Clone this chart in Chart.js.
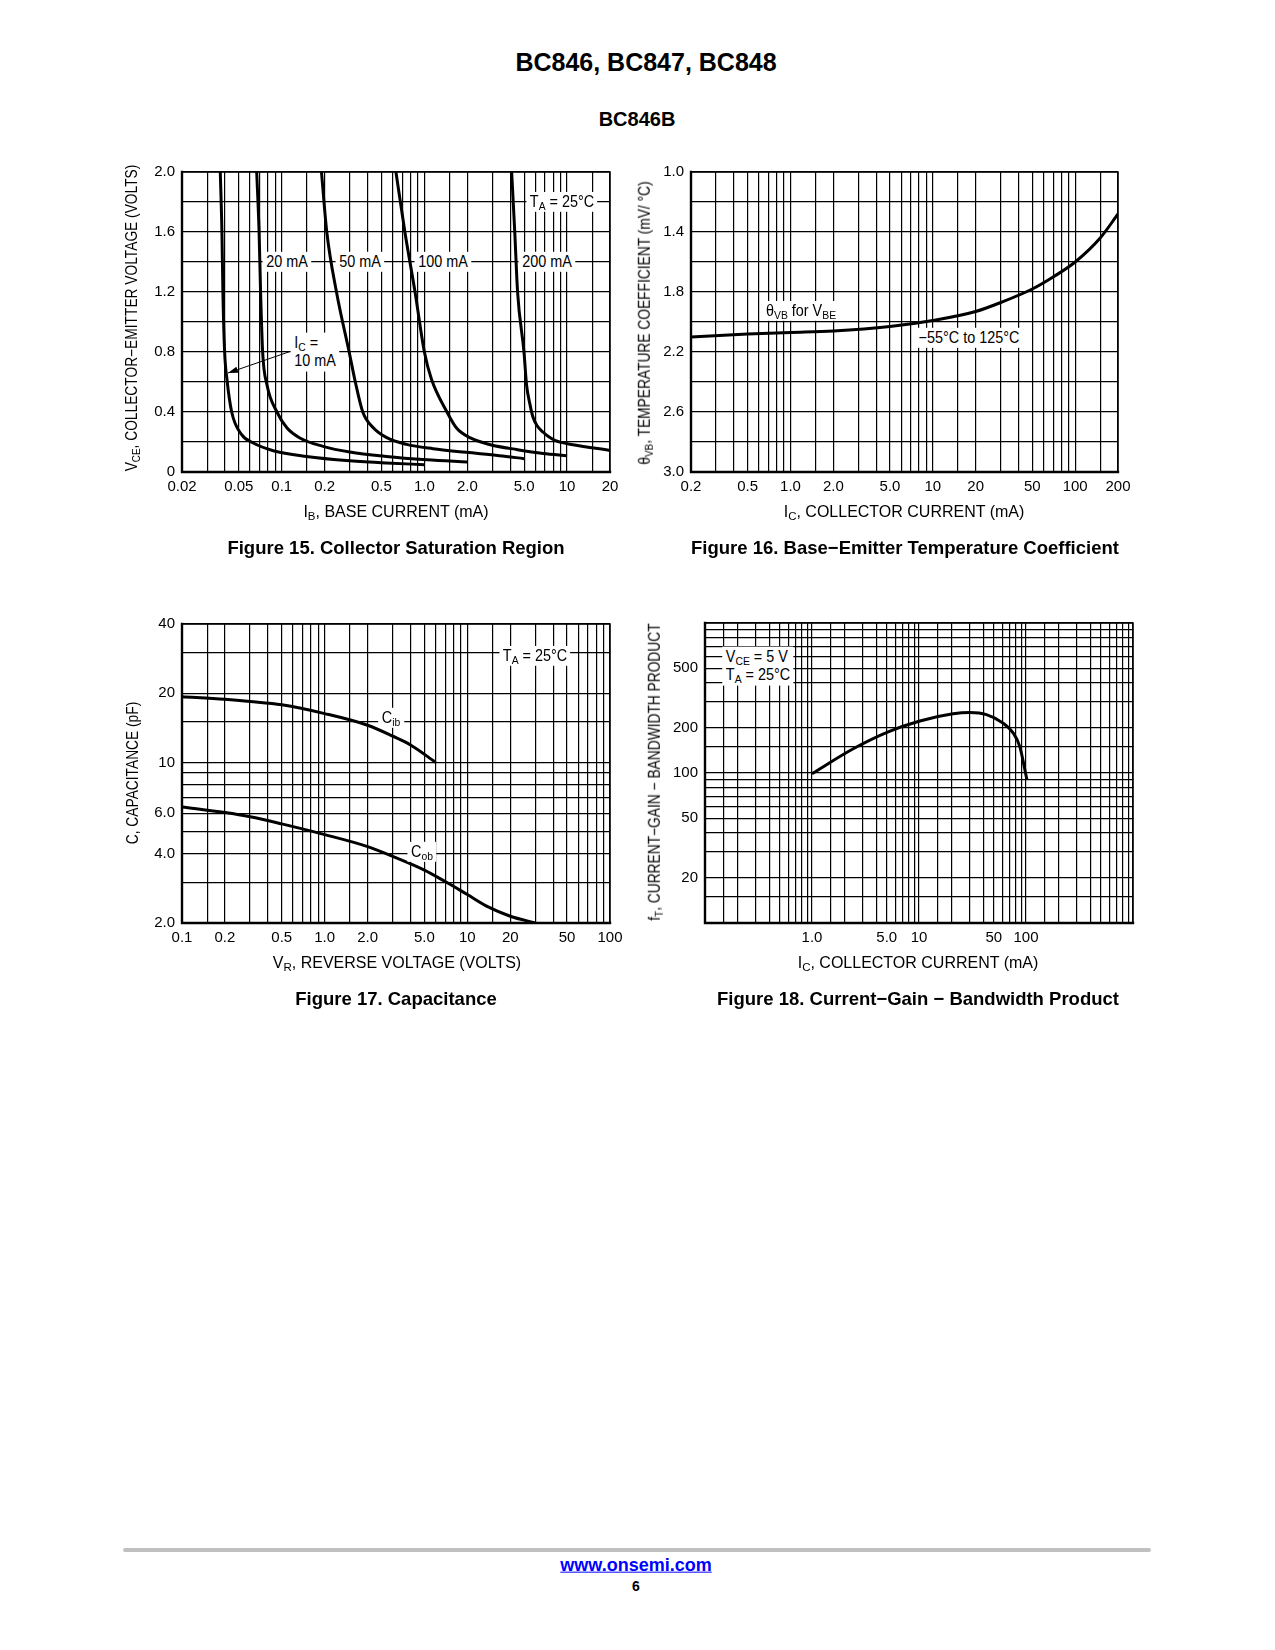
<!DOCTYPE html>
<html lang="en">
<head>
<meta charset="UTF-8">
<title>BC846, BC847, BC848 - BC846B curves</title>
<script src="https://cdn.jsdelivr.net/npm/chart.js"></script>
<style>
  html, body { margin: 0; padding: 0; background: #fff; }
  body { width: 1275px; height: 1650px; position: relative; overflow: hidden; color: #000;
         font-family: 'Liberation Sans', Arial, sans-serif; }
  canvas { position: absolute; }
  .t { position: absolute; transform: translate(-50%, -50%); white-space: nowrap; line-height: 1.15; }
  .head { font-weight: bold; }
  .cap { font-weight: bold; font-size: 18.5px; }
  .xt { font-size: 16px; }
  .yt { font-size: 16px; transform: translate(-50%, -50%) rotate(-90deg) scaleX(0.86); }
  .note { font-size: 16px; background: #fff; padding: 1px 4px; transform: translate(-50%, -50%) scaleX(0.9); }
  .left { text-align: left; }
  sub { font-size: 72%; vertical-align: -0.3em; line-height: 0; }
  .rule { position: absolute; left: 123px; top: 1548px; width: 1028px; height: 4px; background: #c0c0c0; border-radius: 2px; }
  .link { color: #0000ff; text-decoration: underline; font-weight: bold; font-size: 18px; }
</style>
</head>
<body>
<canvas id="fig15" width="508" height="355" style="left:127px; top:152px"></canvas>
<canvas id="fig16" width="507" height="355" style="left:636px; top:152px"></canvas>
<canvas id="fig17" width="508" height="354" style="left:127px; top:604px"></canvas>
<canvas id="fig18" width="508" height="355" style="left:650px; top:603px"></canvas>

<div class="t head" style="left:646px; top:62px; font-size:25px">BC846, BC847, BC848</div>
<div class="t head" style="left:637px; top:119px; font-size:20px">BC846B</div>

<!-- figure 15 -->
<div class="t yt" style="left:132px; top:318px">V<sub>CE</sub>, COLLECTOR−EMITTER VOLTAGE (VOLTS)</div>
<div class="t xt" style="left:396px; top:512px">I<sub>B</sub>, BASE CURRENT (mA)</div>
<div class="t cap" style="left:396px; top:548px">Figure 15. Collector Saturation Region</div>
<div class="t note" style="left:287px; top:262px">20 mA</div>
<div class="t note" style="left:360px; top:262px">50 mA</div>
<div class="t note" style="left:443px; top:262px">100 mA</div>
<div class="t note" style="left:547px; top:262px">200 mA</div>
<div class="t note" style="left:562px; top:202px">T<sub>A</sub> = 25°C</div>
<div class="t note" style="left:315px; top:352px">I<sub>C</sub> =<br>10 mA</div>

<!-- figure 16 -->
<div class="t yt" style="left:645px; top:323px">θ<sub>VB</sub>, TEMPERATURE COEFFICIENT (mV/ °C)</div>
<div class="t xt" style="left:904px; top:512px">I<sub>C</sub>, COLLECTOR CURRENT (mA)</div>
<div class="t cap" style="left:905px; top:548px">Figure 16. Base−Emitter Temperature Coefficient</div>
<div class="t note" style="left:801px; top:311px">θ<sub>VB</sub> for V<sub>BE</sub></div>
<div class="t note" style="left:969px; top:338px">−55°C to 125°C</div>

<!-- figure 17 -->
<div class="t yt" style="left:133px; top:773px">C, CAPACITANCE (pF)</div>
<div class="t xt" style="left:397px; top:963px">V<sub>R</sub>, REVERSE VOLTAGE (VOLTS)</div>
<div class="t cap" style="left:396px; top:999px">Figure 17. Capacitance</div>
<div class="t note" style="left:535px; top:656px">T<sub>A</sub> = 25°C</div>
<div class="t note" style="left:391px; top:718px">C<sub>ib</sub></div>
<div class="t note" style="left:422px; top:852px">C<sub>ob</sub></div>

<!-- figure 18 -->
<div class="t yt" style="left:655px; top:772px">f<sub>T</sub>, CURRENT−GAIN − BANDWIDTH PRODUCT</div>
<div class="t xt" style="left:918px; top:963px">I<sub>C</sub>, COLLECTOR CURRENT (mA)</div>
<div class="t cap" style="left:918px; top:999px">Figure 18. Current−Gain − Bandwidth Product</div>
<div class="t note left" style="left:758px; top:666px">V<sub>CE</sub> = 5 V<br>T<sub>A</sub> = 25°C</div>

<div class="rule"></div>
<div class="t link" style="left:636px; top:1565px">www.onsemi.com</div>
<div class="t head" style="left:636px; top:1586px; font-size:14px">6</div>

<script>
// ---- Figure 15: collector saturation region (IB in mA, VCE in volts)
const ib10 = [0.0371, 0.0381, 0.0387, 0.0398, 0.0413, 0.0446, 0.0524, 0.0632, 0.0873, 0.149, 0.3, 0.54, 1.0];
const vce10 = [2.0, 1.6, 1.2, 0.8, 0.62, 0.4, 0.249, 0.193, 0.142, 0.104, 0.075, 0.06, 0.049];
const ib20 = [0.0668, 0.0694, 0.0711, 0.0735, 0.0788, 0.0926, 0.109, 0.134, 0.195, 0.3, 0.54, 1.04, 2.0];
const vce20 = [2.0, 1.6, 1.2, 0.8, 0.582, 0.4, 0.293, 0.227, 0.171, 0.133, 0.104, 0.082, 0.067];
const ib50 = [0.19, 0.207, 0.242, 0.297, 0.328, 0.37, 0.44, 0.54, 0.75, 1.15, 1.97, 3.35, 5.0];
const vce50 = [2.0, 1.6, 1.2, 0.8, 0.6, 0.4, 0.293, 0.231, 0.184, 0.155, 0.131, 0.109, 0.089];
const ib100 = [0.632, 0.73, 0.86, 1.0, 1.12, 1.44, 1.68, 2.1, 2.9, 4.5, 6.8, 10];
const vce100 = [2.0, 1.6, 1.2, 0.8, 0.62, 0.4, 0.293, 0.227, 0.182, 0.149, 0.124, 0.109];
const ib200 = [4.09, 4.3, 4.5, 4.99, 5.2, 5.5, 5.75, 6.15, 6.8, 7.4, 8.3, 11, 20];
const vce200 = [2.0, 1.6, 1.2, 0.8, 0.582, 0.449, 0.37, 0.31, 0.265, 0.237, 0.209, 0.182, 0.144];
const arrowIc10 = { from: [0.124, 0.815], to: [0.042, 0.66] };
const fig15XLabels = ['0.02', '0.05', '0.1', '0.2', '0.5', '1.0', '2.0', '5.0', '10', '20'];
const fig15YLabels = ['0', '0.4', '0.8', '1.2', '1.6', '2.0'];

// ---- Figure 16: base-emitter temperature coefficient
const icTemp = [0.2, 0.5, 1.0, 2.0, 5.0, 10, 20, 30, 50, 70, 100, 150, 200];
const thetaVB = [2.1, 2.08, 2.07, 2.06, 2.03, 1.99, 1.93, 1.87, 1.78, 1.7, 1.6, 1.44, 1.28];
const fig16XLabels = ['0.2', '0.5', '1.0', '2.0', '5.0', '10', '20', '50', '100', '200'];
const fig16YLabels = ['1.0', '1.4', '1.8', '2.2', '2.6', '3.0'];

// ---- Figure 17: capacitance (VR in volts, C in pF)
const vrCib = [0.1, 0.2, 0.3, 0.5, 1.0, 2.0, 3.0, 4.0, 6.0];
const cib = [19.3, 18.8, 18.4, 17.8, 16.3, 14.5, 13.0, 11.9, 10.0];
const vrCob = [0.1, 0.2, 0.3, 0.5, 1.0, 2.0, 3.0, 5.0, 7.0, 10, 14, 20, 30];
const cob = [6.4, 6.05, 5.8, 5.4, 4.85, 4.3, 3.9, 3.4, 3.03, 2.66, 2.35, 2.14, 2.0];
const fig17XLabels = ['0.1', '0.2', '0.5', '1.0', '2.0', '5.0', '10', '20', '50', '100'];
const fig17YLabels = ['2.0', '4.0', '6.0', '10', '20', '40'];

// ---- Figure 18: current-gain bandwidth product (IC in mA, fT in MHz)
const icFt = [1.0, 2.43, 5.15, 10.2, 20.8, 29.8, 42.7, 61, 75.8, 87.5, 102];
const fT = [99, 145, 188, 222, 248, 253, 245, 215, 185, 150, 90];
const fig18XLabels = ['1.0', '5.0', '10', '50', '100'];
const fig18YLabels = ['20', '50', '100', '200', '500'];

const SANS = "'Liberation Sans', Arial, sans-serif";
Chart.defaults.animation = false;
Chart.defaults.responsive = false;
Chart.defaults.plugins.legend.display = false;
Chart.defaults.plugins.tooltip.enabled = false;

// grid lines at 1, 1.5, 2, 3 ... 9 of every decade, like the printed log paper
function logGrid(min, max) {
  const out = [];
  for (let e = Math.floor(Math.log10(min)); e <= Math.ceil(Math.log10(max)); e++) {
    [1, 1.5, 2, 3, 4, 5, 6, 7, 8, 9].forEach(m => {
      const v = m * Math.pow(10, e);
      if (v >= min * 0.999 && v <= max * 1.001) out.push(v);
    });
  }
  return out;
}
function linGrid(min, max, step) {
  const out = [];
  for (let i = 0; min + i * step <= max + 1e-9; i++) out.push(min + i * step);
  return out;
}
function labelFor(labels, v) {
  const l = labels.find(s => Math.abs(parseFloat(s) - v) <= Math.abs(v) * 1e-6 + 1e-9);
  return l === undefined ? '' : l;
}
function axis(type, min, max, grid, labels, isX, extra) {
  return Object.assign({
    type, min, max,
    afterBuildTicks: s => { s.ticks = grid.map(v => ({ value: v })); },
    afterFit: s => { if (isX) s.height = 35; else s.width = 55; },
    ticks: { autoSkip: false, maxRotation: 0, minRotation: 0, color: '#000', padding: isX ? 6 : 7,
             font: { family: SANS, size: 15 }, callback: v => labelFor(labels, v) },
    grid: { color: '#000', lineWidth: 1.2, drawTicks: false },
    border: { display: false }
  }, extra || {});
}
function curve(xs, ys) {
  return {
    data: xs.map((x, i) => ({ x, y: ys[i] })),
    borderColor: '#000', borderWidth: 3, pointRadius: 0,
    cubicInterpolationMode: 'monotone', fill: false
  };
}
const frame = {
  id: 'frame',
  afterDatasetsDraw(chart) {
    const { ctx, chartArea: a } = chart;
    ctx.save();
    ctx.strokeStyle = '#000';
    ctx.lineCap = 'square';
    ctx.lineWidth = 1.5;
    ctx.beginPath(); ctx.moveTo(a.left, a.top); ctx.lineTo(a.right, a.top); ctx.lineTo(a.right, a.bottom); ctx.stroke();
    ctx.lineWidth = 2.4;
    ctx.beginPath(); ctx.moveTo(a.left, a.top); ctx.lineTo(a.left, a.bottom); ctx.lineTo(a.right, a.bottom); ctx.stroke();
    ctx.restore();
  }
};
const arrow = {
  id: 'arrow',
  afterDatasetsDraw(chart) {
    const { ctx, scales: { x, y } } = chart;
    const x0 = x.getPixelForValue(arrowIc10.from[0]), y0 = y.getPixelForValue(arrowIc10.from[1]);
    const x1 = x.getPixelForValue(arrowIc10.to[0]), y1 = y.getPixelForValue(arrowIc10.to[1]);
    const ang = Math.atan2(y1 - y0, x1 - x0);
    ctx.save();
    ctx.strokeStyle = '#000'; ctx.fillStyle = '#000'; ctx.lineWidth = 1;
    ctx.beginPath(); ctx.moveTo(x0, y0); ctx.lineTo(x1, y1); ctx.stroke();
    ctx.beginPath();
    ctx.moveTo(x1, y1);
    ctx.lineTo(x1 - 10 * Math.cos(ang) + 3.2 * Math.sin(ang), y1 - 10 * Math.sin(ang) - 3.2 * Math.cos(ang));
    ctx.lineTo(x1 - 10 * Math.cos(ang) - 3.2 * Math.sin(ang), y1 - 10 * Math.sin(ang) + 3.2 * Math.cos(ang));
    ctx.closePath(); ctx.fill();
    ctx.restore();
  }
};
// top padding must exceed the y labels' own overflow (half label + tick padding)
const pad = { top: 20, right: 25, left: 0, bottom: 0 };

new Chart(document.getElementById('fig15'), {
  type: 'line',
  data: { datasets: [curve(ib10, vce10), curve(ib20, vce20), curve(ib50, vce50), curve(ib100, vce100), curve(ib200, vce200)] },
  options: {
    layout: { padding: pad },
    scales: {
      x: axis('logarithmic', 0.02, 20, logGrid(0.02, 20), fig15XLabels, true),
      y: axis('linear', 0, 2, linGrid(0, 2, 0.2), fig15YLabels, false)
    }
  },
  plugins: [frame, arrow]
});

new Chart(document.getElementById('fig16'), {
  type: 'line',
  data: { datasets: [curve(icTemp, thetaVB)] },
  options: {
    layout: { padding: pad },
    scales: {
      x: axis('logarithmic', 0.2, 200, logGrid(0.2, 200), fig16XLabels, true),
      y: axis('linear', 1, 3, linGrid(1, 3, 0.2), fig16YLabels, false, { reverse: true })
    }
  },
  plugins: [frame]
});

new Chart(document.getElementById('fig17'), {
  type: 'line',
  data: { datasets: [curve(vrCib, cib), curve(vrCob, cob)] },
  options: {
    layout: { padding: pad },
    scales: {
      x: axis('logarithmic', 0.1, 100, logGrid(0.1, 100), fig17XLabels, true),
      y: axis('logarithmic', 2, 40, logGrid(2, 40), fig17YLabels, false)
    }
  },
  plugins: [frame]
});

new Chart(document.getElementById('fig18'), {
  type: 'line',
  data: { datasets: [curve(icFt, fT)] },
  options: {
    layout: { padding: pad },
    scales: {
      x: axis('logarithmic', 0.1, 1000, logGrid(0.1, 1000), fig18XLabels, true),
      y: axis('logarithmic', 10, 1000, logGrid(10, 1000), fig18YLabels, false)
    }
  },
  plugins: [frame]
});
</script>
</body>
</html>
